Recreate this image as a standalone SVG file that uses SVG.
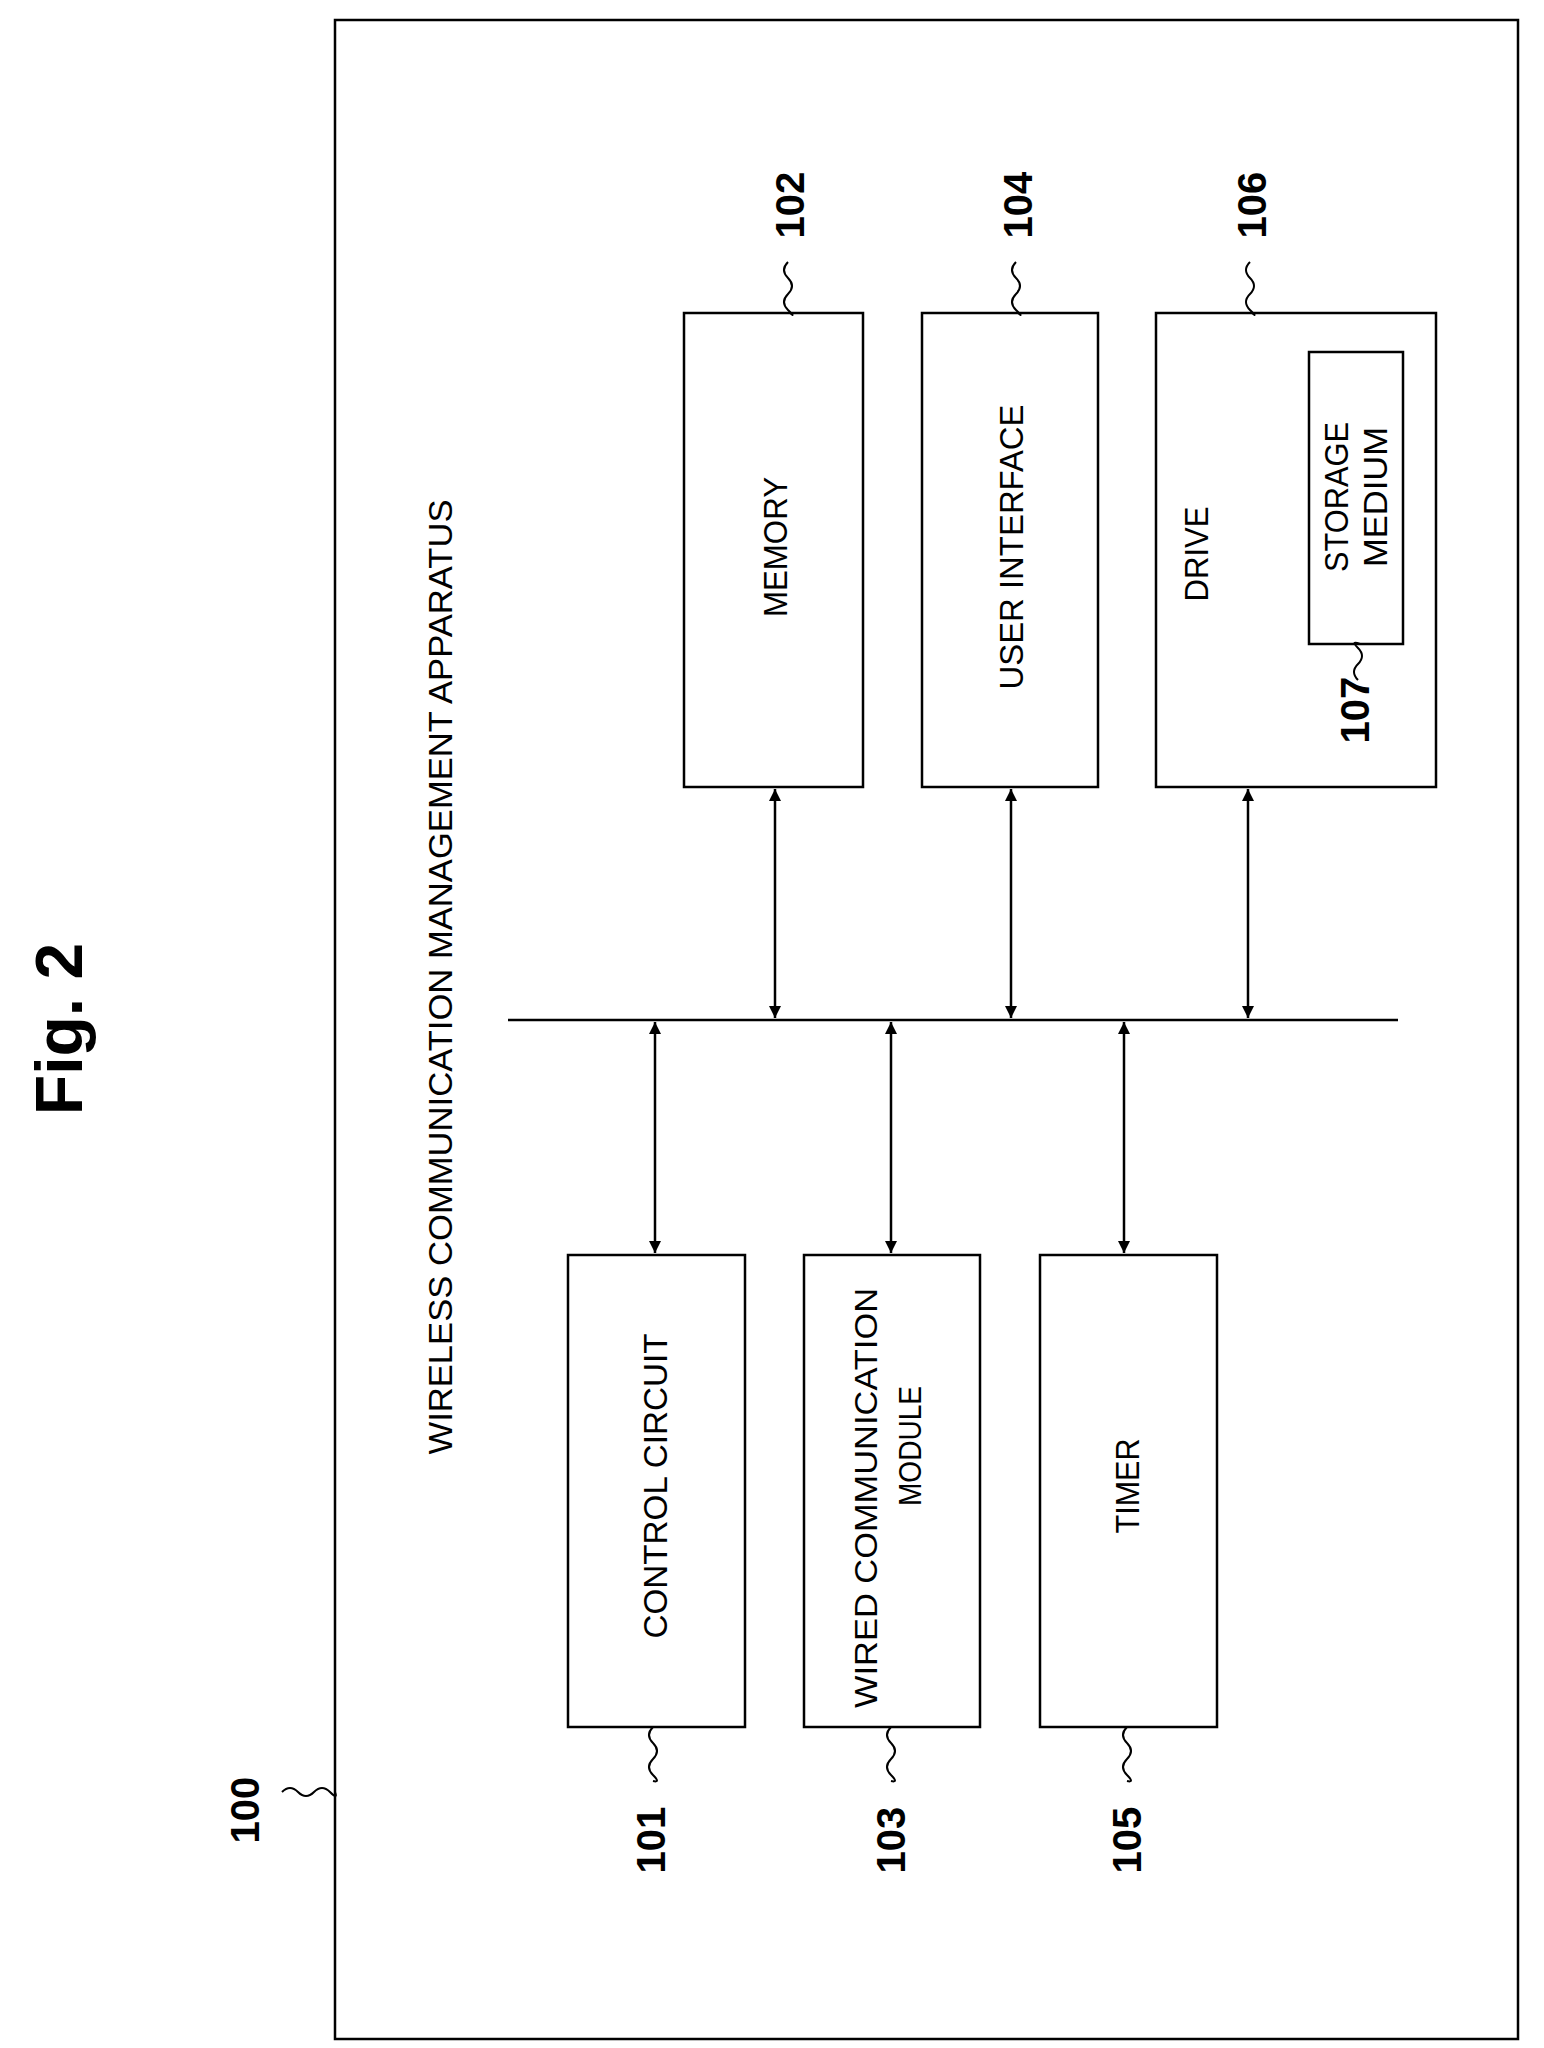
<svg xmlns="http://www.w3.org/2000/svg" width="1544" height="2048" viewBox="0 0 1544 2048">
<style>
.b{fill:none;stroke:#000;stroke-width:2.5}
.t{font-family:"Liberation Sans",Arial,sans-serif;font-size:34px;text-anchor:middle;dominant-baseline:central}
.n{font-family:"Liberation Sans",Arial,sans-serif;font-size:40px;font-weight:bold;text-anchor:middle;dominant-baseline:central}
.l{fill:none;stroke:#000;stroke-width:2}
</style>
<defs>
<marker id="a" viewBox="0 0 10 10" refX="10" refY="5" markerWidth="12" markerHeight="12" markerUnits="userSpaceOnUse" orient="auto-start-reverse"><path d="M0,0 L10,5 L0,10 z"/></marker>
</defs>
<rect width="1544" height="2048" fill="#fff"/>
<text class="n" transform="translate(59,1029) rotate(-90)" style="font-size:66px">Fig. 2</text>
<g id="n100">
<rect class="b" x="335" y="20" width="1183" height="2019"/>
<text class="t" transform="translate(440,977) rotate(-90)" textLength="955" lengthAdjust="spacingAndGlyphs">WIRELESS COMMUNICATION MANAGEMENT APPARATUS</text>
<text class="n" transform="translate(245,1810) rotate(-90)">100</text>
<path class="l" d="M282,1792 q8,-8 16,0 t16,0 t16,0 t5,0"/>
</g>
<g id="n102"><rect class="b" x="684" y="313" width="179" height="474"/>
<text class="t" transform="translate(775,547) rotate(-90)" textLength="140" lengthAdjust="spacingAndGlyphs">MEMORY</text>
<text class="n" transform="translate(790,205) rotate(-90)">102</text>
<path class="l" d="M788,262 q-8,8 0,16 t0,16 t0,16 t2,3"/></g>
<g id="n104"><rect class="b" x="922" y="313" width="176" height="474"/>
<text class="t" transform="translate(1011,547) rotate(-90)" textLength="285" lengthAdjust="spacingAndGlyphs">USER INTERFACE</text>
<text class="n" transform="translate(1018,205) rotate(-90)">104</text>
<path class="l" d="M1016,262 q-8,8 0,16 t0,16 t0,16 t2,3"/></g>
<g id="n106"><rect class="b" x="1156" y="313" width="280" height="474"/>
<text class="t" transform="translate(1196,554) rotate(-90)" textLength="95" lengthAdjust="spacingAndGlyphs">DRIVE</text>
<text class="n" transform="translate(1252,205) rotate(-90)">106</text>
<path class="l" d="M1250,262 q-8,8 0,16 t0,16 t0,16 t2,3"/></g>
<g id="n107"><rect class="b" x="1309" y="352" width="94" height="292"/>
<text class="t" transform="translate(1336,497) rotate(-90)" textLength="150" lengthAdjust="spacingAndGlyphs">STORAGE</text>
<text class="t" transform="translate(1375,497) rotate(-90)" textLength="140" lengthAdjust="spacingAndGlyphs">MEDIUM</text>
<text class="n" transform="translate(1355,710) rotate(-90)">107</text>
<path class="l" d="M1358,680 q-8,-8 0,-16 t0,-16 t2,-4"/></g>
<g id="n101"><rect class="b" x="568" y="1255" width="177" height="472"/>
<text class="t" transform="translate(655,1486) rotate(-90)" textLength="305" lengthAdjust="spacingAndGlyphs">CONTROL CIRCUIT</text>
<text class="n" transform="translate(651,1840) rotate(-90)">101</text>
<path class="l" d="M653,1727 q-8,8 0,16 t0,16 t0,16 t0,6"/></g>
<g id="n103"><rect class="b" x="804" y="1255" width="176" height="472"/>
<text class="t" transform="translate(866,1498) rotate(-90)" style="font-size:32px" textLength="420" lengthAdjust="spacingAndGlyphs">WIRED COMMUNICATION</text>
<text class="t" transform="translate(910,1446) rotate(-90)" style="font-size:32px" textLength="120" lengthAdjust="spacingAndGlyphs">MODULE</text>
<text class="n" transform="translate(891,1840) rotate(-90)">103</text>
<path class="l" d="M891,1727 q-8,8 0,16 t0,16 t0,16 t0,6"/></g>
<g id="n105"><rect class="b" x="1040" y="1255" width="177" height="472"/>
<text class="t" transform="translate(1127,1486) rotate(-90)" textLength="95" lengthAdjust="spacingAndGlyphs">TIMER</text>
<text class="n" transform="translate(1127,1840) rotate(-90)">105</text>
<path class="l" d="M1127,1727 q-8,8 0,16 t0,16 t0,16 t0,6"/></g>
<g id="connectors" class="l" style="stroke-width:2.5">
<line x1="508" y1="1020" x2="1398" y2="1020"/>
<line x1="775" y1="789" x2="775" y2="1018" marker-start="url(#a)" marker-end="url(#a)"/>
<line x1="1011" y1="789" x2="1011" y2="1018" marker-start="url(#a)" marker-end="url(#a)"/>
<line x1="1248" y1="789" x2="1248" y2="1018" marker-start="url(#a)" marker-end="url(#a)"/>
<line x1="655" y1="1022" x2="655" y2="1253" marker-start="url(#a)" marker-end="url(#a)"/>
<line x1="891" y1="1022" x2="891" y2="1253" marker-start="url(#a)" marker-end="url(#a)"/>
<line x1="1124" y1="1022" x2="1124" y2="1253" marker-start="url(#a)" marker-end="url(#a)"/>
</g>
</svg>
